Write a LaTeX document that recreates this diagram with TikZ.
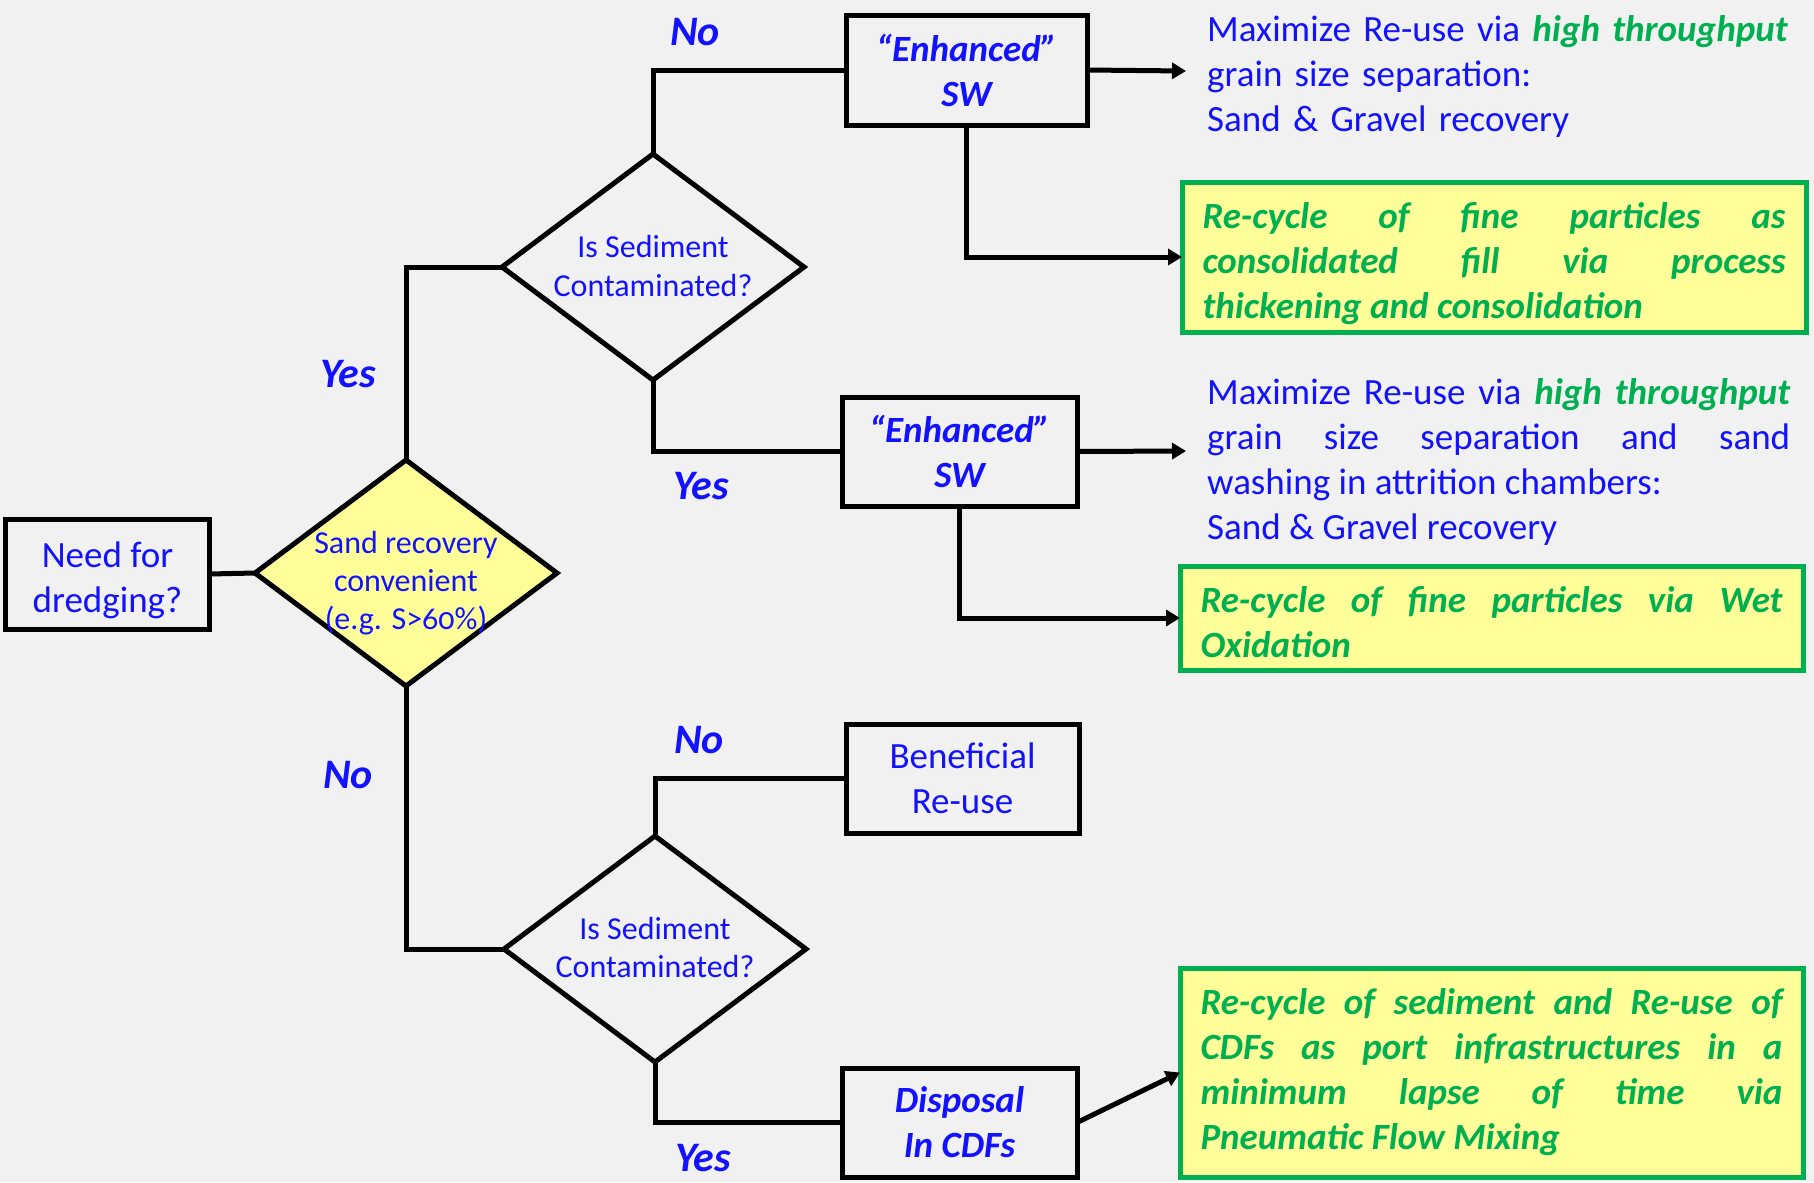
\documentclass[tikz,border=0pt]{standalone}
\usepackage{fontspec}
\setmainfont{Carlito}
\newfontfamily\osf{Carlito}[Numbers=OldStyle]
\usetikzlibrary{shapes.geometric,arrows.meta}
\definecolor{bg}{RGB}{241,241,241}
\definecolor{myblue}{RGB}{18,18,255}
\definecolor{mygreen}{RGB}{0,176,80}
\definecolor{myyellow}{RGB}{255,255,153}
\newcommand{\mainfs}{\fontsize{37bp}{45bp}\selectfont\hyphenpenalty=10000\exhyphenpenalty=10000}
\newcommand{\diafs}{\fontsize{32bp}{38bp}\selectfont}
\newcommand{\lblfs}{\fontsize{42bp}{48bp}\selectfont\bfseries\itshape}
\newcommand{\hl}[1]{{\color{mygreen}\bfseries\itshape #1}}
\begin{document}
\begin{tikzpicture}[x=1bp,y=-1bp,
  conn/.style={line width=5bp, draw=black},
  arr/.style={conn, -{Triangle[length=14bp,width=16bp]}},
  bx/.style={draw=black, line width=5bp, fill=bg, inner sep=0pt, outer sep=0pt,
    align=center, text=myblue, font=\mainfs},
  bxb/.style={bx, font=\mainfs\bfseries\itshape},
  gbox/.style={draw=mygreen, line width=5bp, fill=myyellow, inner ysep=0pt, inner xsep=20.5bp,
    outer sep=0pt, align=justify, text=mygreen, font=\mainfs\bfseries\itshape},
  dia/.style={diamond, draw=black, line width=5bp, inner sep=0pt, outer sep=0pt,
    minimum width=302bp, minimum height=226bp},
  dtxt/.style={align=center, text=myblue, font=\diafs, inner sep=0pt},
  txt/.style={text=myblue, font=\mainfs, inner sep=0pt, anchor=north west, text width=583bp},
  lbl/.style={text=myblue, font=\lblfs, inner sep=0pt}
]
\fill[bg] (0,0) rectangle (1814,1182);
\useasboundingbox (0,0) rectangle (1814,1182);

% decision nodes
\node[dia, fill=myyellow] (d1) at (406,573) {};
\node[dtxt] (d1t) at (406,583) {Sand recovery\\convenient\\{\osf(e.g. S>60\%)}};
\node[dia, fill=bg] (d2) at (653,267) {};
\node[dtxt] (d2t) at (653,266) {Is Sediment\\Contaminated?};
\node[dia, fill=bg] (d3) at (655,949) {};
\node[dtxt] (d3t) at (655,947) {Is Sediment\\Contaminated?};

% boxes
\node[bx, minimum width=203bp, minimum height=110bp] (need) at (107.5,574) {\rule{0pt}{38bp}Need for\\dredging?};
\node[bxb, minimum width=241bp, minimum height=110bp] (sw1) at (966.5,70) {“Enhanced”\\SW};
\node[bxb, minimum width=235bp, minimum height=109bp] (sw2) at (959.5,451.5) {“Enhanced”\\SW};
\node[bx, minimum width=233bp, minimum height=109bp] (ben) at (962.5,778.5) {Beneficial\\Re-use};
\node[bxb, minimum width=235bp, minimum height=109bp] (disp) at (959.5,1122.5) {Disposal\\In CDFs};

% green boxes
\node[gbox, text width=583bp, minimum height=150bp] (g1) at (1494,257)
  {\rule{0pt}{40bp}Re-cycle of fine particles as\linebreak consolidated fill via process\linebreak thickening and consolidation};
\node[gbox, text width=582bp, minimum height=104bp] (g2) at (1491.5,618)
  {\rule{0pt}{35bp}Re-cycle of fine particles via Wet\linebreak Oxidation};
\node[gbox, text width=582bp, minimum height=209bp] (g3) at (1491.5,1072.5)
  {Re-cycle of sediment and Re-use of\linebreak CDFs as port infrastructures in a\linebreak minimum lapse of time via\linebreak Pneumatic Flow Mixing};

% free texts
\node[txt, align=left] (t1) at (1207,15)
  {Maximize Re-use via \hl{high throughput}\\grain size separation:\\Sand \& Gravel recovery};
\node[txt, align=justify] (t2) at (1207,378)
  {Maximize Re-use via \hl{high throughput}\linebreak grain size separation and sand\linebreak washing in attrition chambers:\\Sand \& Gravel recovery};

% labels
\node[lbl] (lno1) at (695,32) {No};
\node[lbl] (lyes1) at (348,374) {Yes};
\node[lbl] (lyes2) at (701,486) {Yes};
\node[lbl] (lno2) at (348,775) {No};
\node[lbl] (lno3) at (699,740) {No};
\node[lbl] (lyes3) at (703,1158) {Yes};

% arrow ends
\coordinate (a1) at (1186,71);
\coordinate (a2) at (1186,451);

% connectors
\draw[conn] (need.east) -- (d1.west);
\draw[conn] (d1.north) |- (d2.west);
\draw[conn] (d2.north) |- (sw1.west);
\draw[arr] (sw1.east) -- (a1);
\draw[arr] (sw1.south) |- (g1.west);
\draw[conn] (d2.south) |- (sw2.west);
\draw[arr] (sw2.east) -- (a2);
\draw[arr] (sw2.south) |- (g2.west);
\draw[conn] (d1.south) |- (d3.west);
\draw[conn] (d3.north) |- (ben.west);
\draw[conn] (d3.south) |- (disp.west);
\draw[arr] (disp.east) -- (g3.west);
\end{tikzpicture}
\end{document}
